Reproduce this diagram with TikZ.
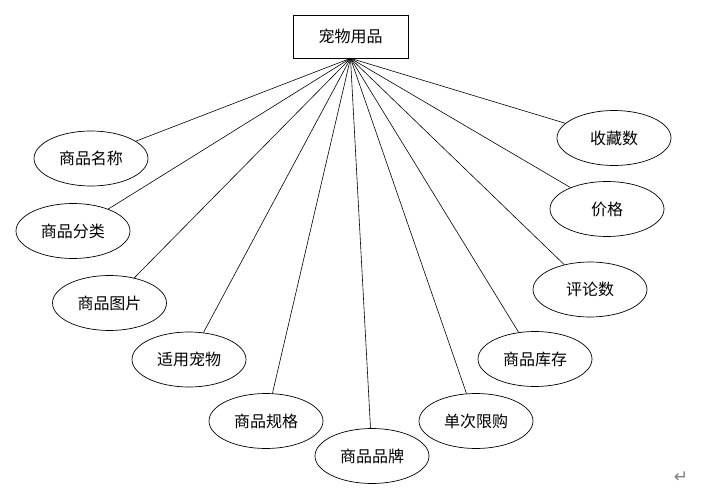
\documentclass[tikz,border=0pt]{standalone}
\usepackage{fontspec}
\newfontfamily\cjk{Noto Sans CJK SC}
\newfontfamily\dejavu{DejaVu Sans}
\usetikzlibrary{shapes.geometric}
\begin{document}
\begin{tikzpicture}[x=1pt,y=-1pt,
  attr/.style={draw,ellipse,line width=0.7pt,minimum width=114pt,minimum height=55pt,inner sep=0pt,font=\cjk\fontsize{16}{16}\selectfont},
  entity/.style={draw,rectangle,line width=0.7pt,minimum width=115pt,minimum height=43pt,inner sep=0pt,font=\cjk\fontsize{16}{16}\selectfont},
  link/.style={line width=0.6pt}]
\useasboundingbox (0,0) rectangle (713,495);
\node[entity] (top) at (350.5,36.5) {宠物用品};
\node[attr] (a1) at (91,158.5) {商品名称};
\node[attr] (a2) at (73,231) {商品分类};
\node[attr] (a3) at (109.5,303) {商品图片};
\node[attr] (a4) at (189,359.5) {适用宠物};
\node[attr] (a5) at (266,421) {商品规格};
\node[attr] (a6) at (372,456) {商品品牌};
\node[attr] (a7) at (476,421) {单次限购};
\node[attr] (a8) at (535,359) {商品库存};
\node[attr] (a9) at (590,289.5) {评论数};
\node[attr] (a10) at (607,209) {价格};
\node[attr] (a11) at (614,138) {收藏数};
\foreach \n in {a1,a2,a3,a4,a5,a6,a7,a8,a9,a10,a11}
  \draw[link] (top.south) -- (\n);
\node[text=gray,font=\dejavu\fontsize{17}{17}\selectfont] (ret) at (681,477) {↵};
\end{tikzpicture}
\end{document}
